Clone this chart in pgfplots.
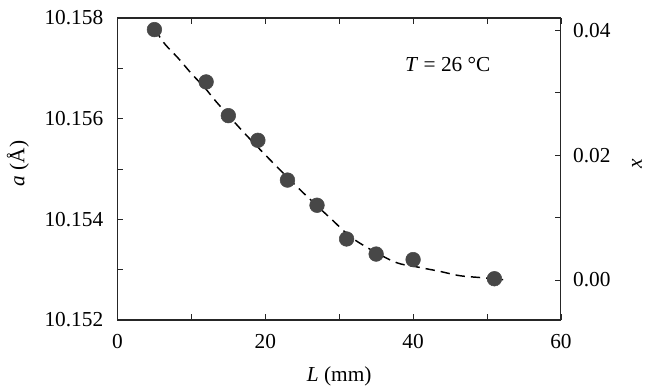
\documentclass[border=0pt]{standalone}
\usepackage{fontspec}
\setmainfont{Liberation Serif}
\usepackage{pgfplots}
\pgfplotsset{compat=1.18}

% measured points: lattice constant vs. distance
\pgfplotstableread{
L   a
5   10.15777
12  10.15673
15  10.15606
19  10.15557
23  10.15478
27  10.15428
31  10.15361
35  10.15331
40  10.15320
51  10.15282
}\measured

% dashed guide line
\pgfplotstableread{
L     a
5.07  10.15777
6.43  10.15748
8.23  10.15720
10.04 10.15689
11.84 10.15661
13.46 10.15632
17.07 10.15573
20.73 10.15517
24.69 10.15459
28.61 10.15405
32.13 10.15359
37.40 10.15316
40.69 10.15305
43.49 10.15297
46.33 10.15288
49.35 10.15284
52.19 10.15280
}\guide

\pgfplotsset{
  frame/.style={
    scale only axis,
    width=332.6pt,height=226.5pt,
    xmin=0,xmax=60,
    scaled x ticks=false,scaled y ticks=false,
    tick align=inside,
    major tick length=4.5pt,minor tick length=4.5pt,
    axis line style={line width=0.8pt,black!85},
    every tick/.style={line width=0.6pt,black!85},
    tick label style={font=\fontsize{16}{19}\selectfont,inner sep=0pt},
    label style={font=\fontsize{16}{19}\selectfont},
  },
}

\begin{document}
\begin{tikzpicture}
\begin{axis}[
  frame,name=main,
  ymin=10.152,ymax=10.158,
  xtick={0,20,40,60},xticklabels={0,20,40,60},
  minor xtick={10,30,50},
  xtick pos=both,xticklabel pos=lower,
  ytick={10.152,10.154,10.156,10.158},
  yticklabels={10.152,10.154,10.156,10.158},
  minor ytick={10.153,10.155,10.157},
  ytick pos=left,
  xticklabel style={anchor=north,yshift=-10.5pt},
  yticklabel style={anchor=east,xshift=-10.5pt},
  xlabel={\textit{L} (mm)},
  xlabel style={at={(rel axis cs:0.5,0)},anchor=center,yshift=-42pt},
  ylabel={\textit{a} (Å)},
  % label is rotated 90: yshift moves it left, xshift moves it up
  ylabel style={at={(rel axis cs:0,0.5)},anchor=center,yshift=74.6pt,xshift=4pt},
]
  \addplot[line width=1.1pt,dash pattern=on 7pt off 4.5pt,smooth,black] table[x=L,y=a] {\guide};
  \addplot[only marks,mark=*,mark size=5.5pt,mark options={draw=black!72,fill=black!72}] table[x=L,y=a] {\measured};
  \node[font=\fontsize{16}{19}\selectfont] at (axis cs:44.7,10.15707) {\textit{T} = 26 °C};
\end{axis}
\begin{axis}[
  frame,
  hide x axis,
  axis y line*=right,
  ymin=-0.00642,ymax=0.04199,
  ytick={0,0.02,0.04},yticklabels={0.00,0.02,0.04},
  minor ytick={0.01,0.03},
  yticklabel style={anchor=west,xshift=9pt},
  ylabel={\textit{x}},
  ylabel style={at={(rel axis cs:1,0.5)},anchor=center,yshift=-57pt,xshift=4pt},
]
\end{axis}
\pgfresetboundingbox
\path[use as bounding box] ([shift={(-88.1pt,-50.25pt)}]main.south west) rectangle ([shift={(402.4pt,240pt)}]main.south west);
\end{tikzpicture}
\end{document}
